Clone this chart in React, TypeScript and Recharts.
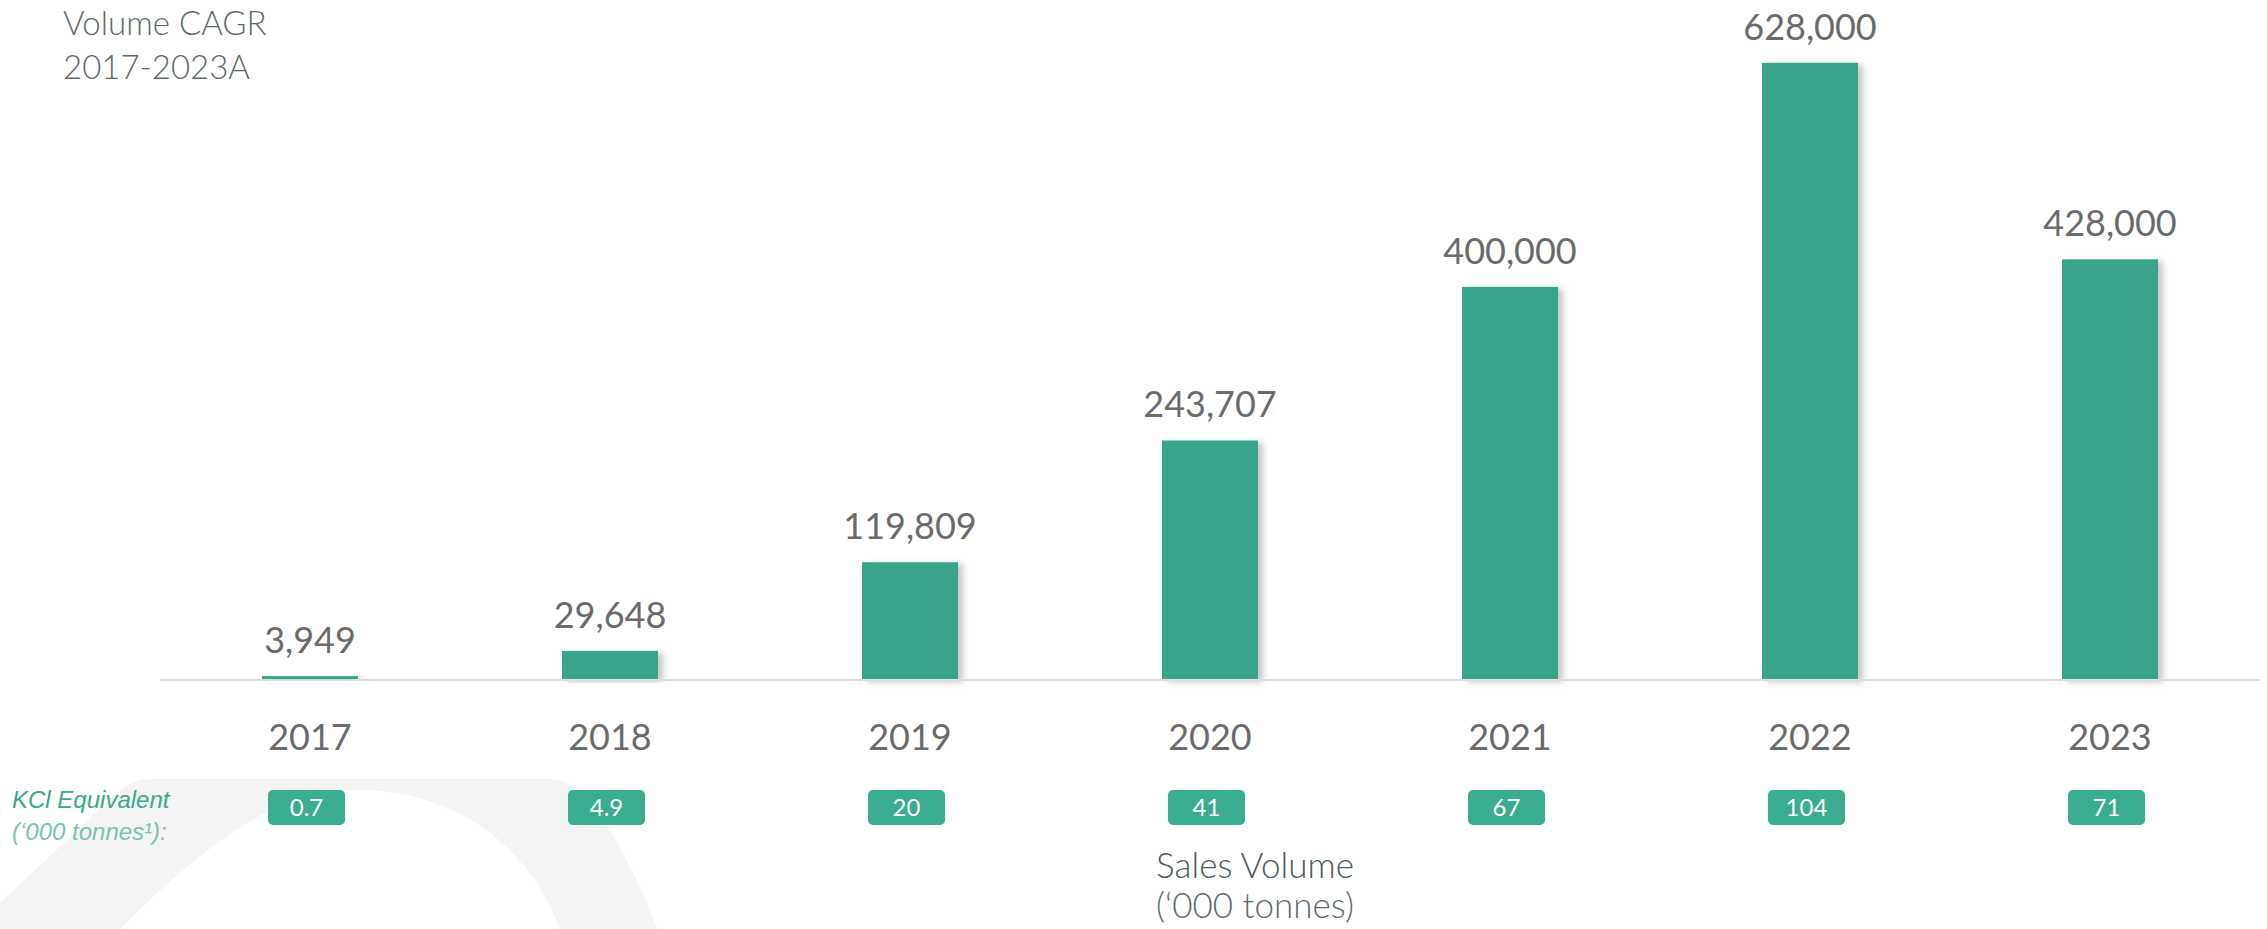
import { BarChart, Bar, XAxis, YAxis, LabelList } from 'recharts';

const years = ['2017', '2018', '2019', '2020', '2021', '2022', '2023'];
const salesVolume = [3949, 29648, 119809, 243707, 400000, 628000, 428000];
const kclEquivalent = ['0.7', '4.9', '20', '41', '67', '104', '71'];

const data = years.map((year, i) => ({ year, volume: salesVolume[i] }));

const BAR_COLOR = '#38a48b';
const BADGE_COLOR = '#3aac8f';
const TEXT_GRAY = '#6b6b6b';
const FONT = 'Lato, "Open Sans", sans-serif';

function YearTick(props: any) {
  const { x, y, payload } = props;
  const idx = years.indexOf(payload.value);
  const kcl = kclEquivalent[idx];
  return (
    <g>
      <text x={x} y={y + 70} textAnchor="middle" fill={TEXT_GRAY} fontSize={36} fontFamily={FONT}>
        {payload.value}
      </text>
      <rect x={x - 42} y={y + 110} width={77} height={35} rx={5} fill={BADGE_COLOR} />
      <text x={x - 3.5} y={y + 136} textAnchor="middle" fill="#ffffff" fontSize={24} fontFamily={FONT}>
        {kcl}
      </text>
    </g>
  );
}

function ShadowBar(props: any) {
  const { x, y, width, height, fill } = props;
  if (!height || height <= 0) return null;
  return <rect x={x} y={y} width={width} height={height} fill={fill} filter="url(#barShadow)" />;
}

export default function App() {
  return (
    <div style={{ position: 'absolute', left: 0, top: 0, width: 2267, height: 929, background: '#fff', overflow: 'hidden' }}>
      <svg width={0} height={0} style={{ position: 'absolute' }}>
        <defs>
          <filter id="barShadow" x="-20%" y="-5%" width="150%" height="115%">
            <feDropShadow dx={5} dy={2} stdDeviation={3} floodColor="#000" floodOpacity={0.22} />
          </filter>
        </defs>
      </svg>

      {/* faint background arch */}
      <svg width={2267} height={929} style={{ position: 'absolute', left: 0, top: 0 }}>
        <path
          d="M 0 903 L 118 792 Q 132 779 152 779 L 548 779 Q 575 779 595 808 Q 635 866 657 929 L 560 929 C 535 860 470 792 360 790 C 270 790 200 850 120 929 L 0 929 Z"
          fill="#f4f4f4"
        />
      </svg>

      <div style={{ position: 'absolute', left: 0, top: 0 }}>
        <BarChart
          width={2267}
          height={929}
          data={data}
          margin={{ top: 51, right: 7, bottom: 49, left: 160 }}
          barCategoryGap="34%"
        >
          <XAxis
            dataKey="year"
            axisLine={{ stroke: '#dcdcdc', strokeWidth: 2 }}
            tickLine={false}
            tickSize={0}
            tickMargin={0}
            height={200}
            interval={0}
            tick={<YearTick />}
          />
          <YAxis hide domain={[0, 640000]} />
          <Bar dataKey="volume" fill={BAR_COLOR} shape={<ShadowBar />} isAnimationActive={false}>
            <LabelList
              dataKey="volume"
              position="top"
              offset={23}
              fill={TEXT_GRAY}
              fontSize={36}
              fontFamily={FONT}
              formatter={(v: any) => Number(v).toLocaleString('en-US')}
            />
          </Bar>
        </BarChart>
      </div>

      <svg width={2267} height={929} style={{ position: 'absolute', left: 0, top: 0, pointerEvents: 'none' }}>
        <g fontFamily={FONT} fontWeight={300}>
          <text x={63} y={35} fontSize={33} fill="#5e6b6b">Volume CAGR</text>
          <text x={63} y={79} fontSize={33} fill="#5e6b6b">2017-2023A</text>
          <text x={1255} y={878} fontSize={35} textAnchor="middle" fill="#4d5b5b">Sales Volume</text>
          <text x={1255} y={918} fontSize={35} textAnchor="middle" fill="#5e6b6b">(‘000 tonnes)</text>
        </g>
        <g fontFamily='"Liberation Sans", Arial, sans-serif' fontStyle="italic" fontWeight={400}>
          <text x={12} y={808} fontSize={24} fill="#3aa98c">KCl Equivalent</text>
          <text x={12} y={840} fontSize={24} fill="#79c4b0">(‘000 tonnes¹):</text>
        </g>
      </svg>
    </div>
  );
}
